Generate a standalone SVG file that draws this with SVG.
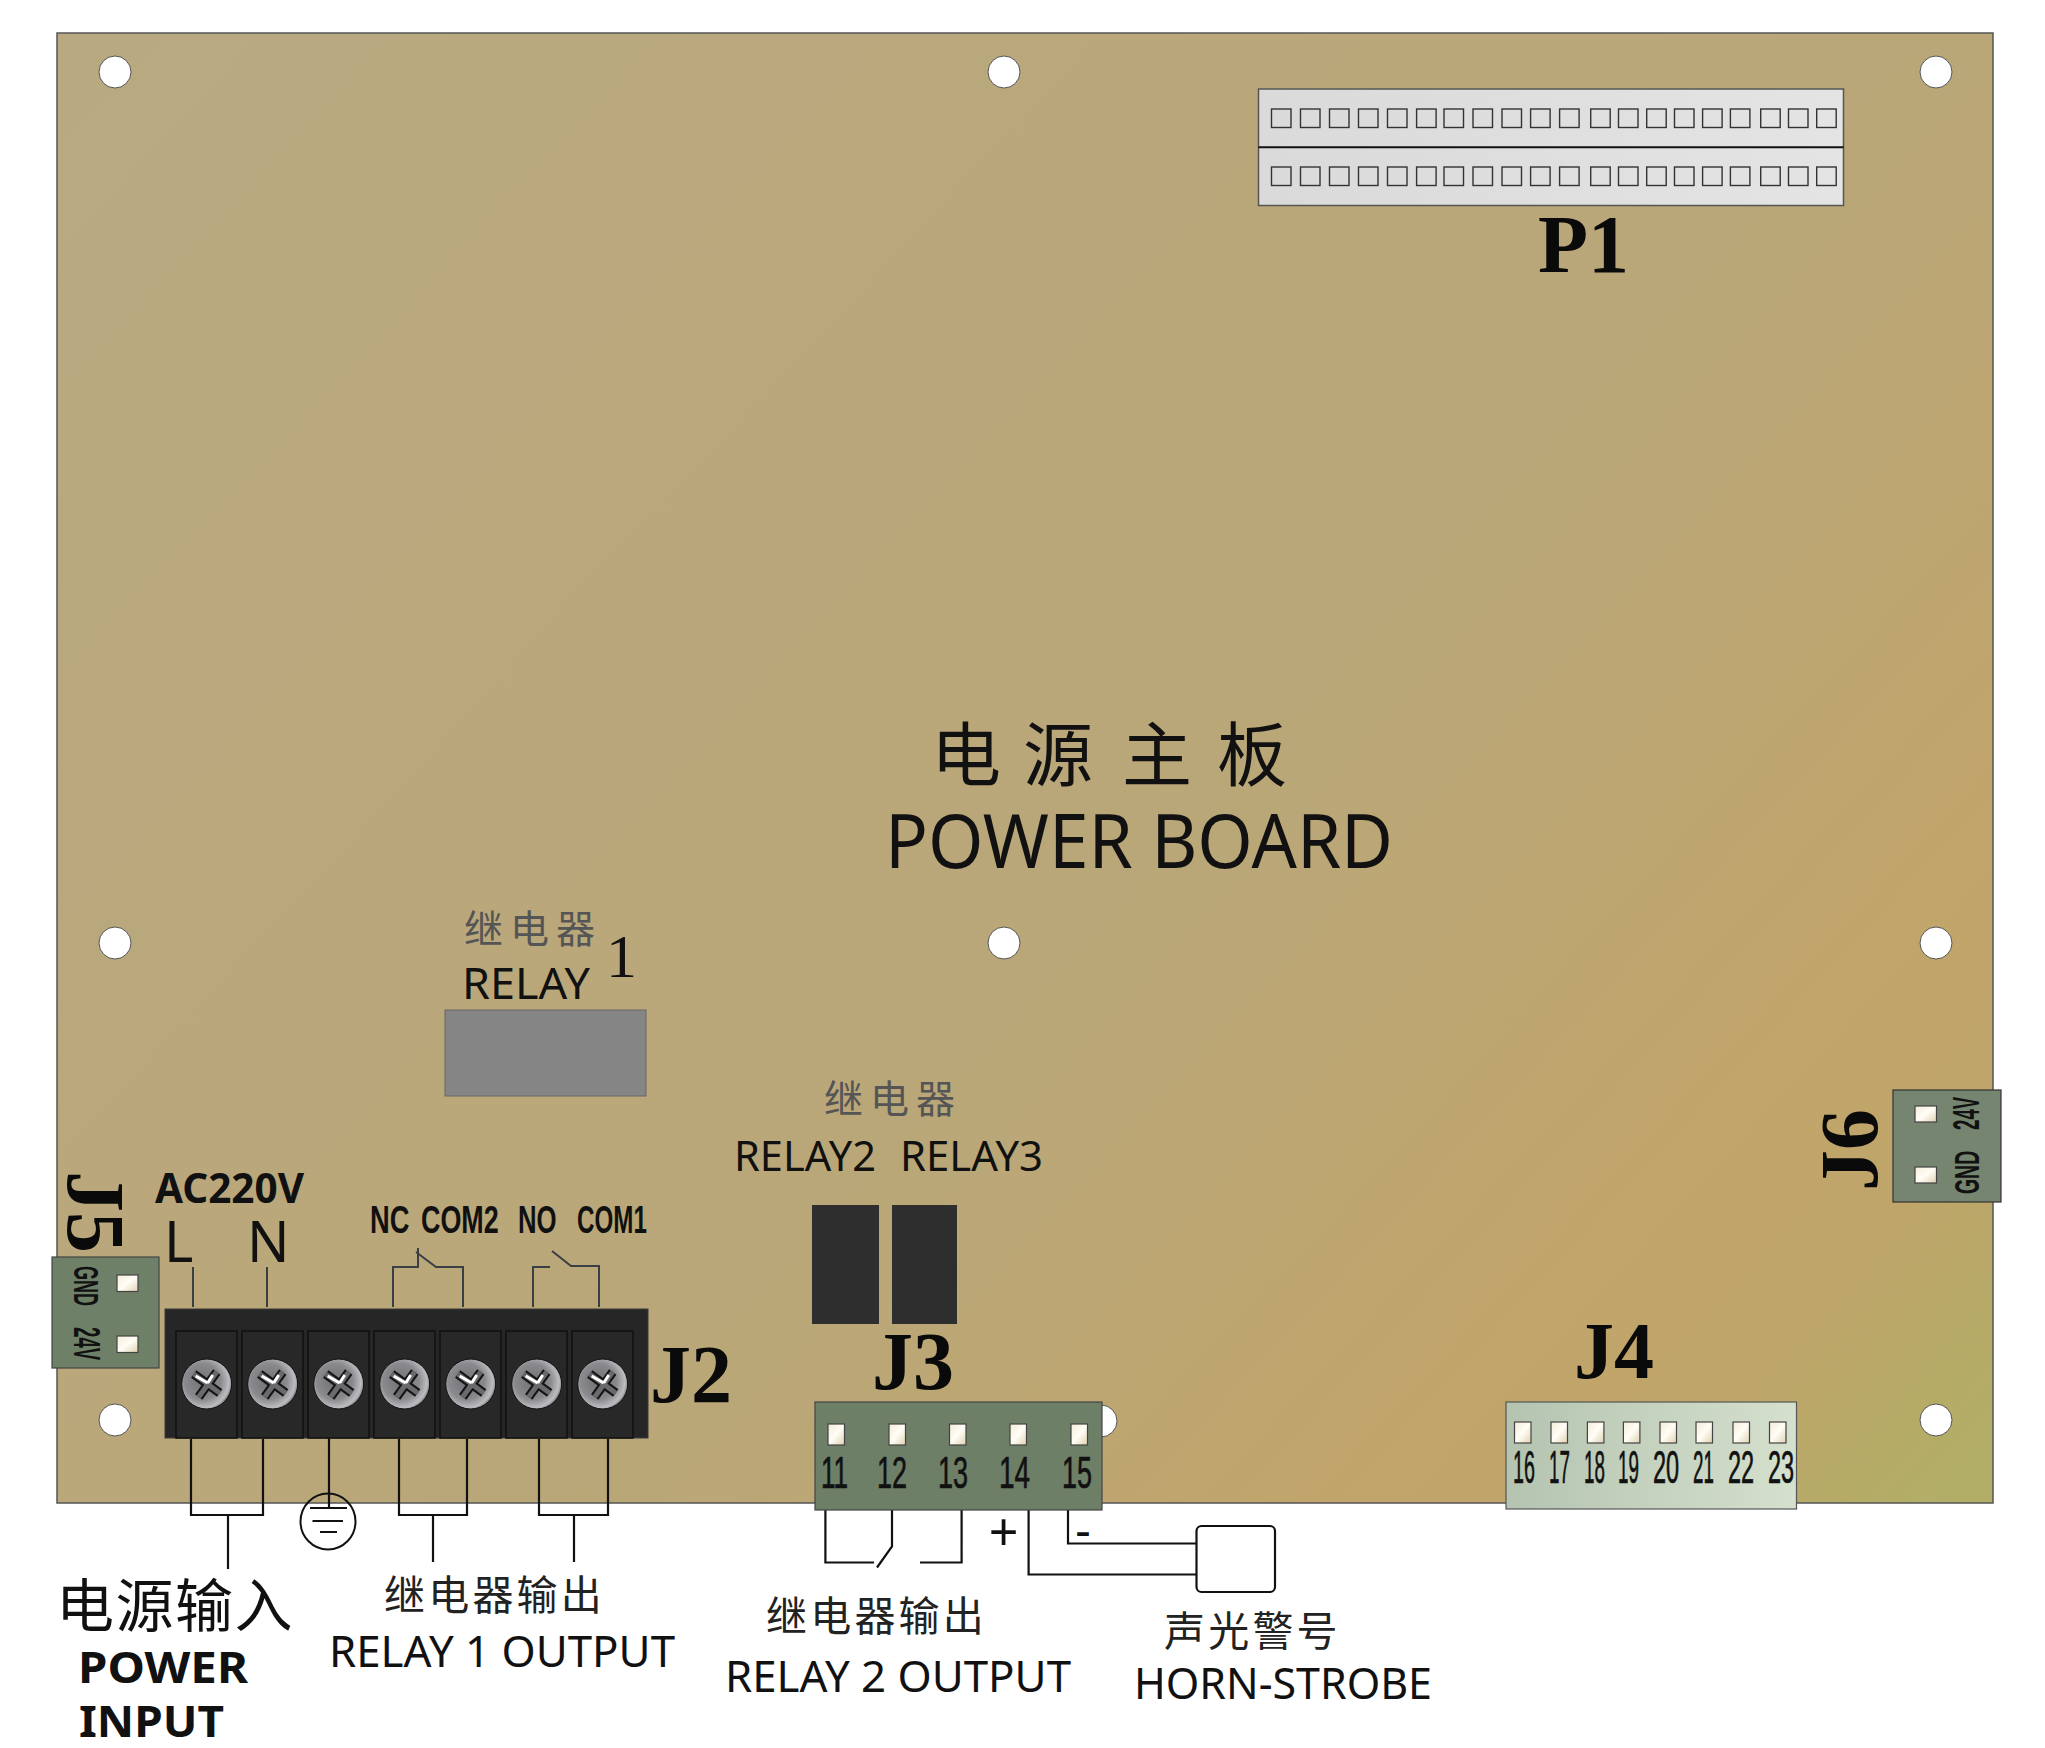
<svg xmlns="http://www.w3.org/2000/svg" xmlns:xlink="http://www.w3.org/1999/xlink" width="2045" height="1748" viewBox="0 0 2045 1748">
<style>
.s{font-family:"Noto Sans","Liberation Sans",sans-serif;fill:#111}
.b{font-family:"Noto Sans","Liberation Sans",sans-serif;font-weight:700;fill:#111}
.n{font-family:"Liberation Sans",sans-serif;fill:#111;stroke:#111;stroke-width:.7}
.nb{font-family:"Liberation Sans",sans-serif;font-weight:700;fill:#111}
.j{font-family:"Liberation Serif",serif;font-weight:700;font-size:82px;fill:#0a0a0a}
.c{font-family:"Noto Sans CJK SC",sans-serif;fill:#111}
.g{font-family:"Noto Sans CJK SC",sans-serif;fill:#555;font-size:39px;letter-spacing:7px}
.o{font-family:"Noto Sans CJK SC",sans-serif;fill:#222;font-size:41px;letter-spacing:3.2px}
.w{fill:none;stroke:#111;stroke-width:2.2}
.t{fill:none;stroke:#3a3f44;stroke-width:2}
.hole{fill:#fff;stroke:#555;stroke-width:1}
.pad{fill:url(#pad);stroke:#444;stroke-width:1.2}
.sq{fill:none;stroke:#333;stroke-width:1.4}
.slot{fill:#282828;stroke:#111;stroke-width:1.5}
</style>
<defs>
<linearGradient id="board" gradientUnits="userSpaceOnUse" x1="57" y1="33" x2="1800" y2="1650">
<stop offset="0" stop-color="#b9a981"/><stop offset=".6" stop-color="#baa778"/><stop offset=".82" stop-color="#c1a56b"/><stop offset=".9" stop-color="#c0a56b"/><stop offset=".97" stop-color="#b5ab67"/><stop offset="1" stop-color="#b2ae68"/>
</linearGradient>
<linearGradient id="pad" x1="0" y1="0" x2="1" y2="1"><stop offset="0" stop-color="#f4ecd8"/><stop offset=".5" stop-color="#fffdf6"/><stop offset="1" stop-color="#e0d2b0"/></linearGradient>
<linearGradient id="j4" x1="0" y1="0" x2="1" y2="0"><stop offset="0" stop-color="#b4c4b0"/><stop offset="1" stop-color="#d5e0cd"/></linearGradient>
<linearGradient id="p1" x1="0" y1="0" x2="1" y2="0"><stop offset="0" stop-color="#dadada"/><stop offset="1" stop-color="#e4e4e4"/></linearGradient>
<radialGradient id="screw" cx=".42" cy=".45" r=".6"><stop offset="0" stop-color="#707075"/><stop offset=".6" stop-color="#8a8a8e"/><stop offset=".88" stop-color="#bdbdc1"/><stop offset="1" stop-color="#77777a"/></radialGradient>
<g id="scr">
<circle r="25" fill="url(#screw)" stroke="#111" stroke-width="1"/>
<path d="M-13-10 13 9M10-12-8 13" fill="none" stroke="#141414" stroke-width="9"/>
<path d="M-13-10 13 9M10-12-8 13" fill="none" stroke="#6a6a6e" stroke-width="5"/>
<path d="M-11-8 1-1M1-1 6-9" fill="none" stroke="#fff" stroke-width="3"/>
</g>
<rect id="sq" class="sq" width="19.5" height="18.5"/>
<rect id="pb" class="pad" width="16.5" height="21"/>
</defs>

<g id="board-pcb">
<rect x="57" y="33" width="1936" height="1470" fill="url(#board)" stroke="#555" stroke-width="1.5"/>
<circle class="hole" cx="115" cy="72" r="16"/><circle class="hole" cx="1004" cy="72" r="16"/><circle class="hole" cx="1936" cy="72" r="16"/>
<circle class="hole" cx="115" cy="943" r="16"/><circle class="hole" cx="1004" cy="943" r="16"/><circle class="hole" cx="1936" cy="943" r="16"/>
<circle class="hole" cx="115" cy="1420" r="16"/><circle class="hole" cx="1101" cy="1421" r="16"/><circle class="hole" cx="1936" cy="1420" r="16"/>
<text class="c" font-size="70" y="781"><tspan x="931">电</tspan><tspan x="1023">源</tspan><tspan x="1122">主</tspan><tspan x="1217">板</tspan></text>
<text class="s" x="885" y="868" font-size="75" textLength="508" lengthAdjust="spacingAndGlyphs">POWER BOARD</text>
</g>

<g id="connectors">
<path class="t" d="M193 1267V1307M267 1267V1307"/>
<path class="t" d="M393 1307V1267H418V1248M416 1252 436 1267H463V1307"/>
<path class="t" d="M533 1307V1267H550M552 1251 571 1266H599V1307"/>
<path class="w" d="M191 1439V1515H263V1439M228 1515V1569"/>
<path class="w" d="M329 1437V1509"/>
<path class="w" d="M399 1439V1515H467V1439M433 1515V1562"/>
<path class="w" d="M539 1439V1515H608V1439M574 1515V1562"/>
<path class="w" d="M825.400 1510V1562.500H874M877 1567.500 892 1546.500V1510M920 1562.500H961.600V1510"/>
<path class="w" d="M1028.600 1510V1574.500H1197M1068 1510V1543.500H1197"/>
</g>

<g id="ground">
<ellipse cx="328" cy="1521.500" rx="27.500" ry="28" fill="none" stroke="#111" stroke-width="2"/>
<path class="w" d="M310 1508H347M312.500 1521H343M320 1532H337" stroke-width="1.800"/>
</g>

<g id="horn">
<rect x="1196.500" y="1526" width="78.500" height="66" rx="5" fill="#fff" stroke="#111" stroke-width="2.200"/>
</g>

<g id="P1">
<rect x="1258.500" y="89" width="585" height="116.500" fill="url(#p1)" stroke="#555" stroke-width="1.500"/>
<path d="M1258.500 147.300H1843.500" stroke="#111" stroke-width="2"/>
<use xlink:href="#sq" x="1271.500" y="109"/><use xlink:href="#sq" x="1300.500" y="109"/><use xlink:href="#sq" x="1329.500" y="109"/><use xlink:href="#sq" x="1358.500" y="109"/><use xlink:href="#sq" x="1387.500" y="109"/><use xlink:href="#sq" x="1416.600" y="109"/><use xlink:href="#sq" x="1444" y="109"/><use xlink:href="#sq" x="1473" y="109"/><use xlink:href="#sq" x="1502" y="109"/><use xlink:href="#sq" x="1530.600" y="109"/><use xlink:href="#sq" x="1559.600" y="109"/><use xlink:href="#sq" x="1590.700" y="109"/><use xlink:href="#sq" x="1618.500" y="109"/><use xlink:href="#sq" x="1646.700" y="109"/><use xlink:href="#sq" x="1674.500" y="109"/><use xlink:href="#sq" x="1702.600" y="109"/><use xlink:href="#sq" x="1730.400" y="109"/><use xlink:href="#sq" x="1760.700" y="109"/><use xlink:href="#sq" x="1788.500" y="109"/><use xlink:href="#sq" x="1816.700" y="109"/>
<use xlink:href="#sq" x="1271.500" y="167"/><use xlink:href="#sq" x="1300.500" y="167"/><use xlink:href="#sq" x="1329.500" y="167"/><use xlink:href="#sq" x="1358.500" y="167"/><use xlink:href="#sq" x="1387.500" y="167"/><use xlink:href="#sq" x="1416.600" y="167"/><use xlink:href="#sq" x="1444" y="167"/><use xlink:href="#sq" x="1473" y="167"/><use xlink:href="#sq" x="1502" y="167"/><use xlink:href="#sq" x="1530.600" y="167"/><use xlink:href="#sq" x="1559.600" y="167"/><use xlink:href="#sq" x="1590.700" y="167"/><use xlink:href="#sq" x="1618.500" y="167"/><use xlink:href="#sq" x="1646.700" y="167"/><use xlink:href="#sq" x="1674.500" y="167"/><use xlink:href="#sq" x="1702.600" y="167"/><use xlink:href="#sq" x="1730.400" y="167"/><use xlink:href="#sq" x="1760.700" y="167"/><use xlink:href="#sq" x="1788.500" y="167"/><use xlink:href="#sq" x="1816.700" y="167"/>
<text class="j" x="1538" y="272" style="font-size:82px">P1</text>
</g>

<g id="relay1">
<rect x="445" y="1010" width="201" height="86" fill="#858585" stroke="#666" stroke-width="1"/>
<text class="g" x="464" y="943">继电器</text>
<text x="606" y="977" style="font-family:'Liberation Serif',serif;fill:#111" font-size="62">1</text>
<text class="s" x="462" y="999" font-size="44" textLength="128" lengthAdjust="spacingAndGlyphs">RELAY</text>
</g>

<g id="relay23">
<rect x="812" y="1205" width="67" height="119" fill="#2e2e2e"/>
<rect x="892" y="1205" width="65" height="119" fill="#2e2e2e"/>
<text class="g" x="824" y="1113">继电器</text>
<text class="s" x="734" y="1171" font-size="42" textLength="142" lengthAdjust="spacingAndGlyphs">RELAY2</text>
<text class="s" x="900" y="1171" font-size="42" textLength="143" lengthAdjust="spacingAndGlyphs">RELAY3</text>
</g>

<g id="J5">
<rect x="52" y="1257" width="107" height="111" fill="#6f8068" stroke="#444" stroke-width="1.200"/>
<rect class="pad" x="117" y="1275" width="21" height="16.500"/>
<rect class="pad" x="117" y="1336" width="21" height="16.500"/>
<text class="nb" transform="translate(74 1266) rotate(90) scale(.5 1)" font-size="36">GND</text>
<text class="nb" transform="translate(74 1327) rotate(90) scale(.52 1)" font-size="36">24V</text>
<text class="j" transform="translate(68 1171) rotate(90)">J5</text>
</g>

<g id="J6">
<rect x="1893" y="1090" width="108" height="112" fill="#758570" stroke="#333" stroke-width="1.200"/>
<rect class="pad" x="1915" y="1106" width="21.500" height="16"/>
<rect class="pad" x="1915" y="1167" width="21.500" height="16"/>
<text class="nb" transform="translate(1979 1130) rotate(-90) scale(.52 1)" font-size="36">24V</text>
<text class="nb" transform="translate(1979 1194) rotate(-90) scale(.54 1)" font-size="36">GND</text>
<text class="j" transform="translate(1877 1191) rotate(-90)">J6</text>
</g>

<g id="J2">
<rect x="165" y="1309" width="483" height="129" fill="#262626" stroke="#3a3a3a" stroke-width="1"/>
<rect class="slot" x="176" y="1331" width="61" height="107"/><rect class="slot" x="242" y="1331" width="61" height="107"/><rect class="slot" x="308" y="1331" width="61" height="107"/><rect class="slot" x="374" y="1331" width="61" height="107"/><rect class="slot" x="440" y="1331" width="61" height="107"/><rect class="slot" x="506" y="1331" width="61" height="107"/><rect class="slot" x="572" y="1331" width="61" height="107"/>
<use xlink:href="#scr" x="206.700" y="1384"/><use xlink:href="#scr" x="272.700" y="1384"/><use xlink:href="#scr" x="338.700" y="1384"/><use xlink:href="#scr" x="404.700" y="1384"/><use xlink:href="#scr" x="470.700" y="1384"/><use xlink:href="#scr" x="536.700" y="1384"/><use xlink:href="#scr" x="602.700" y="1384"/>
<text class="j" x="650" y="1402">J2</text>
<text class="b" x="155" y="1203" font-size="41" textLength="149" lengthAdjust="spacingAndGlyphs">AC220V</text>
<text class="s" x="164" y="1262" font-size="56">L</text>
<text class="s" x="247" y="1262" font-size="56">N</text>
<text class="nb" transform="translate(370 1233) scale(.7 1)" font-size="39">NC</text>
<text class="nb" transform="translate(421 1233) scale(.69 1)" font-size="39">COM2</text>
<text class="nb" transform="translate(518 1233) scale(.66 1)" font-size="39">NO</text>
<text class="nb" transform="translate(577 1233) scale(.62 1)" font-size="39">COM1</text>
</g>

<g id="J3">
<rect x="815" y="1402" width="287" height="108" fill="#6e7f67" stroke="#444" stroke-width="1.200"/>
<use xlink:href="#pb" x="828" y="1424"/><use xlink:href="#pb" x="889" y="1424"/><use xlink:href="#pb" x="949.500" y="1424"/><use xlink:href="#pb" x="1010" y="1424"/><use xlink:href="#pb" x="1071" y="1424"/>
<text class="n" transform="translate(821 1488) scale(.58 1)" font-size="45">11</text>
<text class="n" transform="translate(877 1488) scale(.6 1)" font-size="45">12</text>
<text class="n" transform="translate(938 1488) scale(.6 1)" font-size="45">13</text>
<text class="n" transform="translate(999 1488) scale(.62 1)" font-size="45">14</text>
<text class="n" transform="translate(1062 1488) scale(.6 1)" font-size="45">15</text>
<text class="j" x="872" y="1389">J3</text>
<text class="s" x="1003.600" y="1551" font-size="52" text-anchor="middle">+</text>
<text class="s" x="1083" y="1547" font-size="48" text-anchor="middle">-</text>
</g>

<g id="J4">
<rect x="1506" y="1402" width="290.500" height="107" fill="url(#j4)" stroke="#555" stroke-width="1.200"/>
<use xlink:href="#pb" x="1514.500" y="1422"/><use xlink:href="#pb" x="1551" y="1422"/><use xlink:href="#pb" x="1587.400" y="1422"/><use xlink:href="#pb" x="1623.400" y="1422"/><use xlink:href="#pb" x="1660" y="1422"/><use xlink:href="#pb" x="1696" y="1422"/><use xlink:href="#pb" x="1733" y="1422"/><use xlink:href="#pb" x="1769.500" y="1422"/>
<text class="n" transform="translate(1513 1483) scale(.42 1)" font-size="47">16</text>
<text class="n" transform="translate(1549 1483) scale(.4 1)" font-size="47">17</text>
<text class="n" transform="translate(1584 1483) scale(.4 1)" font-size="47">18</text>
<text class="n" transform="translate(1618 1483) scale(.4 1)" font-size="47">19</text>
<text class="n" transform="translate(1653 1483) scale(.5 1)" font-size="47">20</text>
<text class="n" transform="translate(1693 1483) scale(.4 1)" font-size="47">21</text>
<text class="n" transform="translate(1728 1483) scale(.5 1)" font-size="47">22</text>
<text class="n" transform="translate(1768 1483) scale(.5 1)" font-size="47">23</text>
<text class="j" x="1574" y="1378" style="font-size:80px">J4</text>
</g>

<g id="label-power-input">
<text class="c" x="56" y="1627" font-size="58" letter-spacing="1.500">电源输入</text>
<text class="b" x="78" y="1683" font-size="43" textLength="170" lengthAdjust="spacingAndGlyphs">POWER</text>
<text class="b" x="79" y="1737" font-size="43" textLength="145" lengthAdjust="spacingAndGlyphs">INPUT</text>
</g>
<g id="label-relay1-output">
<text class="o" x="384" y="1610">继电器输出</text>
<text class="s" x="329" y="1667" font-size="43" textLength="346" lengthAdjust="spacingAndGlyphs">RELAY 1 OUTPUT</text>
</g>
<g id="label-relay2-output">
<text class="o" x="766" y="1631">继电器输出</text>
<text class="s" x="725" y="1692" font-size="43" textLength="346" lengthAdjust="spacingAndGlyphs">RELAY 2 OUTPUT</text>
</g>
<g id="label-horn">
<text class="o" x="1164" y="1646" letter-spacing="4">声光警号</text>
<text class="s" x="1134" y="1699" font-size="43" textLength="298" lengthAdjust="spacingAndGlyphs">HORN-STROBE</text>
</g>
</svg>
